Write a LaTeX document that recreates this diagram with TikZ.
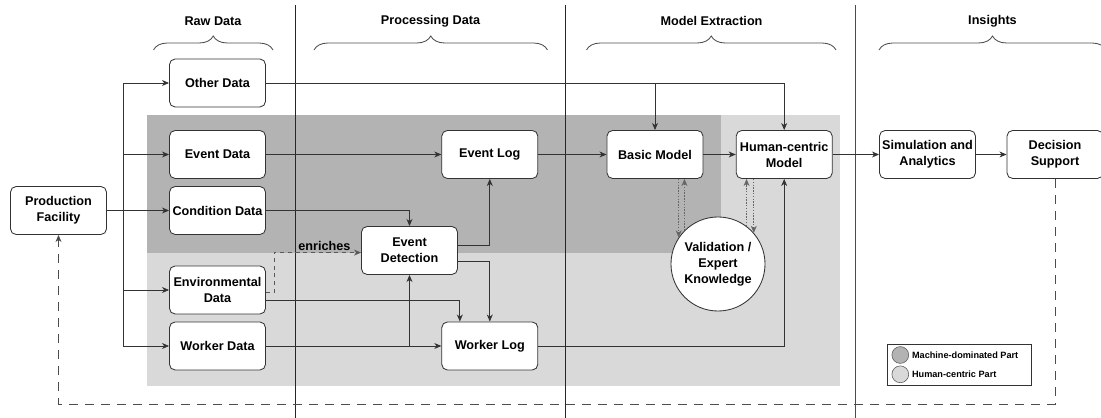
\documentclass[tikz,border=0pt]{standalone}
\usepackage{fontspec}
\setmainfont{Liberation Sans}
\usetikzlibrary{arrows.meta,decorations.pathreplacing}
\definecolor{machinegray}{HTML}{B3B3B3}
\definecolor{humangray}{HTML}{D9D9D9}
\definecolor{linegray}{HTML}{333333}

\begin{document}
\begin{tikzpicture}[x=0.025cm,y=-0.025cm,font=\fontsize{9}{11.4}\selectfont\bfseries]
\tikzstyle{box}=[draw=linegray, fill=white, rounded corners=4pt, minimum width=2.4cm, minimum height=1.2cm, align=center, inner sep=1pt, line width=0.6pt]
\tikzstyle{arr}=[draw=linegray, line width=0.6pt, -{Stealth[length=5pt,width=4.2pt,inset=1.5pt]}]
\tikzstyle{dotarr}=[arr, draw=gray!80!black, dash pattern=on 1pt off 1pt]
\tikzstyle{dsh}=[arr, draw=gray!70!black, dash pattern=on 3pt off 2.5pt]
\tikzstyle{fb}=[arr, draw=gray!60!black, dash pattern=on 6.4pt off 5pt]
\tikzstyle{brace}=[draw=gray!60!black, line width=0.6pt, decorate, decoration={brace, amplitude=0.35cm}]
\useasboundingbox (0,0) rectangle (1101,418);

% parts
\fill[humangray] (147,115) rectangle (840,386);
\fill[machinegray] (147,115) rectangle (721,253);

% phases
\draw[line width=0.7pt, black!85] (295,5) -- (295,418);
\draw[line width=0.7pt, black!85] (565.5,5) -- (565.5,418);
\draw[line width=0.7pt, black!70] (855.5,5) -- (855.5,418);
\node at (213,21) (hraw) {Raw Data};
\node at (430.5,21) (hproc) {Processing Data};
\node at (711.5,21) (hmodel) {Model Extraction};
\node at (992.5,21) (hins) {Insights};
\draw[brace] (153.5,50) -- (273,50);
\draw[brace] (314,50) -- (547.5,50);
\draw[brace] (586.5,50) -- (836,50);
\draw[brace] (879,50) -- (1106,50);

% nodes
\node at (58.5,210.5) [box] (pf) {Production\\Facility};
\node at (217.5,83) [box] (od) {Other Data};
\node at (217.5,154.5) [box] (evd) {Event Data};
\node at (217.5,210.5) [box] (cd) {Condition Data};
\node at (217.5,290) [box] (env) {Environmental\\Data};
\node at (217.5,346) [box] (wd) {Worker Data};
\node at (489.8,154.5) [box] (elog) {Event Log};
\node at (409.5,250.5) [box] (det) {Event\\Detection};
\node at (489.8,346) [box] (wlog) {Worker Log};
\node at (655,154.5) [box] (bm) {Basic Model};
\node at (784.2,154.5) [box] (hm) {Human-centric\\Model};
\node at (927.5,154.5) [box] (sim) {Simulation and\\Analytics};
\node at (1055,154.5) [box] (ds) {Decision\\Support};
\node at (718,264) [box, circle, minimum size=2.35cm, inner sep=0pt] (val) {Validation /\\Expert\\Knowledge};

% edges
\coordinate (split) at (123,210.5);
\draw[arr] (pf) -- (cd);
\draw[arr] (split) |- (od);
\draw[arr] (split) |- (evd);
\draw[arr] (split) |- (env);
\draw[arr] (split) |- (wd);
\draw[arr] (od) -| (bm);
\draw[arr] (od) -| (hm);
\draw[arr] (evd) -- (elog);
\draw[arr] (elog) -- (bm);
\draw[arr] (bm) -- (hm);
\draw[arr] (hm) -- (sim);
\draw[arr] (sim) -- (ds);
\draw[arr] (cd) -| (det);
\draw[arr] ([yshift=3.9pt]det.east) -| (elog);
\draw[arr] ([yshift=-7.5pt]det.east) -| (wlog);
\draw[arr] ([yshift=-7.1pt]env.east) -| ([xshift=-21.3pt]wlog.north);
\draw[arr] (wd) -- (wlog);
\draw[arr] (det.south |- wd.east) -- (det.south);
\draw[arr] (wlog) -| (hm);
\draw[dsh] ([yshift=-1.9pt]env.east) -- ++(8,0) |- ([yshift=-1.5pt]det.west) node[pos=0.79, above, inner sep=1pt, text=black] {enriches};
\draw[dotarr] (bm.south -| val.146) -- (val.146);
\draw[dotarr] (val.135) -- (bm.south -| val.135);
\draw[dotarr] (val.53) -- (hm.south -| val.53);
\draw[dotarr] (hm.south -| val.41) -- (val.41);
\coordinate (fbcorner) at (58.5,404);
\draw[fb] (ds) |- (fbcorner) -- (pf);

% legend
\node at (959,364.5) [draw=linegray, fill=white, minimum width=3.6cm, minimum height=1.02cm] (legend) {};
\node at (900.3,355) [circle, draw=gray!70!black, fill=machinegray, minimum size=0.42cm, inner sep=0pt] (lmach) {};
\node at (900.3,374.3) [circle, draw=gray!70!black, fill=humangray, minimum size=0.42cm, inner sep=0pt] (lhum) {};
\node at (lmach.east) [anchor=west, inner sep=2pt, font=\fontsize{6.5}{7}\selectfont\bfseries] (lmachtext) {Machine-dominated Part};
\node at (lhum.east) [anchor=west, inner sep=2pt, font=\fontsize{6.5}{7}\selectfont\bfseries] (lhumtext) {Human-centric Part};
\end{tikzpicture}
\end{document}
